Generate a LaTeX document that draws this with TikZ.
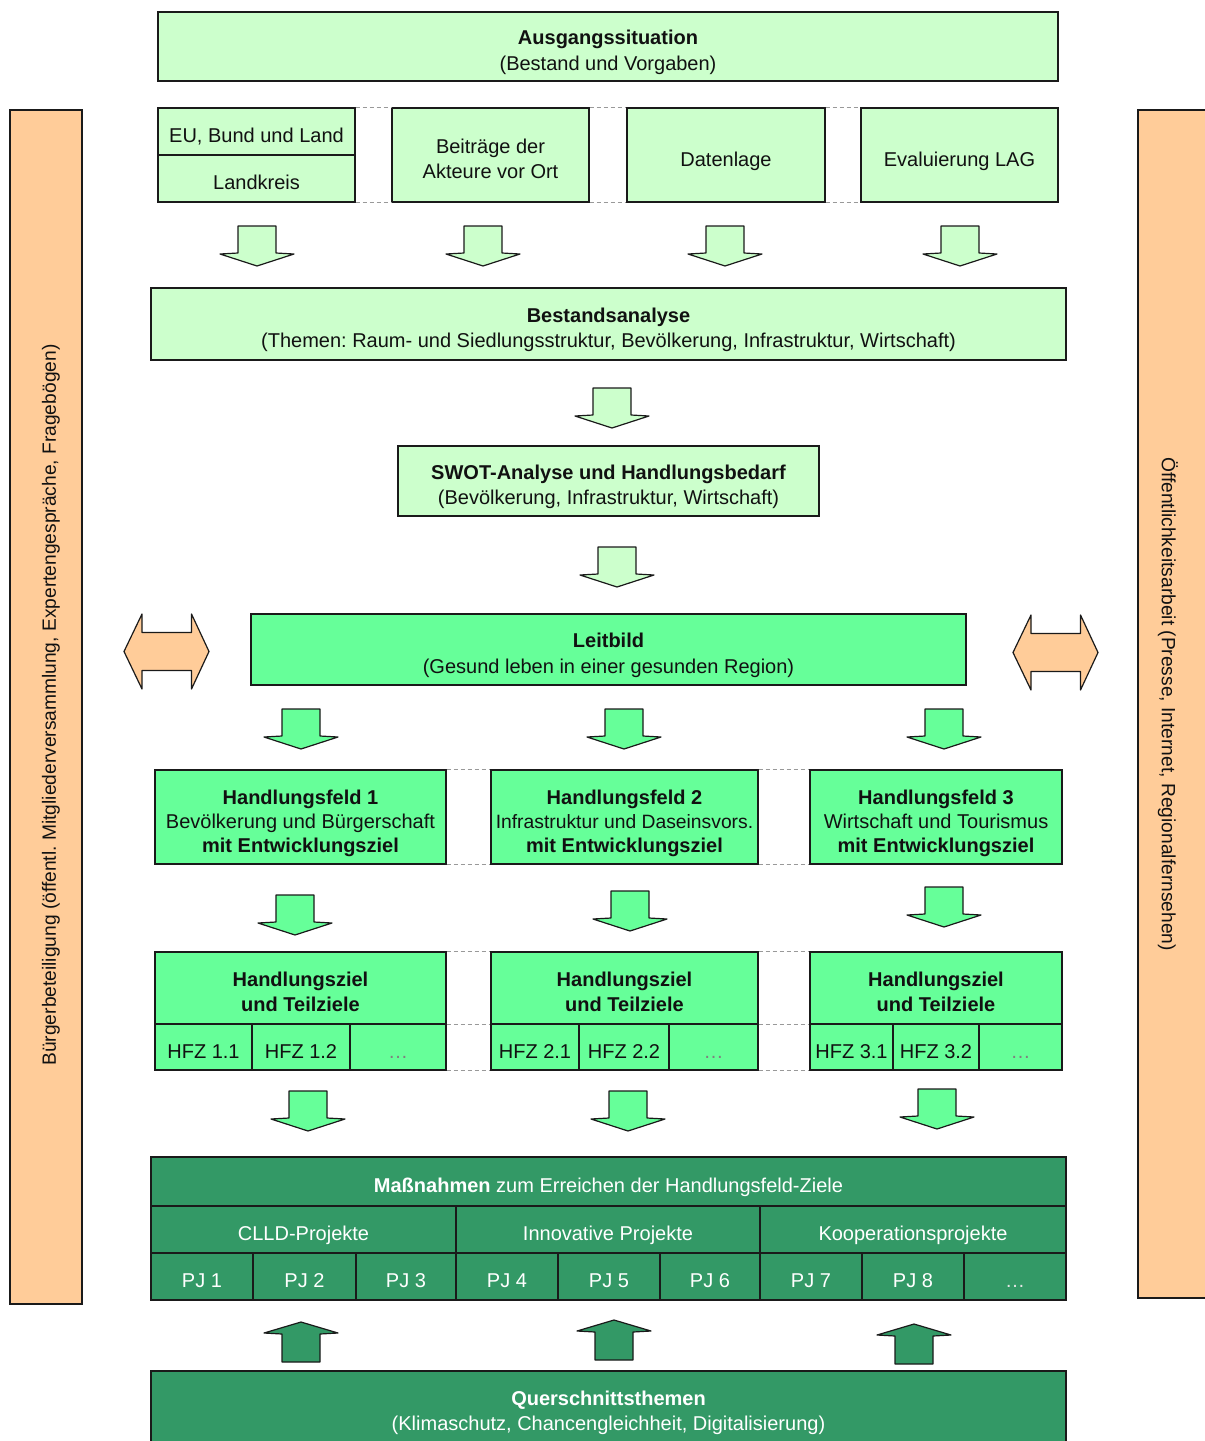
\documentclass[tikz,border=0pt]{standalone}
\usepackage{fontspec}
\setmainfont{Liberation Sans}
\frenchspacing
\definecolor{lightg}{HTML}{CCFFCC}
\definecolor{brightg}{HTML}{66FF99}
\definecolor{darkg}{HTML}{339966}
\definecolor{orangeb}{HTML}{FFCC99}
\definecolor{bordc}{HTML}{1A1A1A}
\definecolor{txtc}{HTML}{111111}
\definecolor{dashc}{HTML}{999999}
\begin{document}
\begin{tikzpicture}[x=1pt,y=-1pt,
  box/.style={draw=bordc, line width=1.3pt, inner sep=0pt, align=center,
    font=\fontsize{20}{25.5}\selectfont, text=txtc,
    execute at begin node={\rule{0pt}{27pt}},
    execute at end node={\rule[-5pt]{0pt}{5pt}}},
  twoline/.style={execute at begin node={\rule{0pt}{52.5pt}}},
  threeline/.style={font=\fontsize{20}{24}\selectfont, execute at begin node={\rule{0pt}{75pt}}},
  lbox/.style={box, fill=lightg},
  gbox/.style={box, fill=brightg},
  dbox/.style={box, fill=darkg, text=white},
  obox/.style={box, fill=orangeb},
  sidetext/.style={inner sep=0pt, font=\fontsize{19.2}{24}\selectfont, text=txtc},
  dline/.style={draw=dashc, line width=1pt, dash pattern=on 4pt off 3pt},
  arrl/.style={fill=lightg, draw=bordc, line width=1.2pt, line join=round},
  arrg/.style={fill=brightg, draw=bordc, line width=1.2pt, line join=round},
  arrd/.style={fill=darkg, draw=bordc, line width=1.2pt, line join=round},
  arro/.style={fill=orangeb, draw=bordc, line width=1.2pt, line join=round},
  darr/.pic={\draw[pic actions] (-19,0) -- (19,0) -- (19,27) -- (37,28) -- (0,40) -- (-37,28) -- (-19,27) -- cycle;},
  uarr/.pic={\draw[pic actions] (0,0) -- (37,11) -- (19,12) -- (19,40) -- (-19,40) -- (-19,12) -- (-37,11) -- cycle;},
  dblarr/.pic={\draw[pic actions] (-42.5,0) -- (-24.5,-37.5) -- (-24.5,-19) -- (25,-19) -- (25,-37.5) -- (42.5,0) -- (25,37.5) -- (25,19) -- (-24.5,19) -- (-24.5,37.5) -- cycle;}
]
\useasboundingbox (0,0) rectangle (1205,1441);

% side bars
\node[obox, minimum width=72, minimum height=1194] (lbar) at (46,707) {};
\node[sidetext, rotate=90] (ltext) at (51,705) {Bürgerbeteiligung (öffentl. Mitgliederversammlung, Expertengespräche, Fragebögen)};
\node[obox, minimum width=74, minimum height=1188] (rbar) at (1175,704) {};
\node[sidetext, rotate=-90] (rtext) at (1168,704) {Öffentlichkeitsarbeit (Presse, Internet, Regionalfernsehen)};

% top
\node[lbox, twoline, minimum width=900, minimum height=69] (aus) at (608,46.5) {\textbf{Ausgangssituation}\\(Bestand und Vorgaben)};

\node[lbox, minimum width=197, minimum height=47] (eu) at (256.5,131.5) {EU, Bund und Land};
\node[lbox, minimum width=197, minimum height=47] (lk) at (256.5,178.5) {Landkreis};
\node[lbox, twoline, minimum width=197, minimum height=94] (bei) at (490.5,155) {Beiträge der\\Akteure vor Ort};
\node[lbox, minimum width=198, minimum height=94] (dat) at (726,155) {Datenlage};
\node[lbox, minimum width=197, minimum height=94] (eva) at (959.5,155) {Evaluierung LAG};
\draw[dline] (eu.north east) -- (bei.north west);
\draw[dline] (lk.south east) -- (bei.south west);
\draw[dline] (bei.north east) -- (dat.north west);
\draw[dline] (bei.south east) -- (dat.south west);
\draw[dline] (dat.north east) -- (eva.north west);
\draw[dline] (dat.south east) -- (eva.south west);

\pic[arrl] at (257,226) {darr};
\pic[arrl] at (483,226) {darr};
\pic[arrl] at (725,226) {darr};
\pic[arrl] at (960,226) {darr};

\node[lbox, twoline, minimum width=915, minimum height=72] (best) at (608.5,324) {\textbf{Bestandsanalyse}\\(Themen: Raum- und Siedlungsstruktur, Bevölkerung, Infrastruktur, Wirtschaft)};

\pic[arrl] at (612,388) {darr};

\node[lbox, twoline, minimum width=421, minimum height=70] (swot) at (608.5,481) {\textbf{SWOT-Analyse und Handlungsbedarf}\\(Bevölkerung, Infrastruktur, Wirtschaft)};

\pic[arrl] at (617,547) {darr};

\node[gbox, twoline, minimum width=715, minimum height=71] (leit) at (608.5,649.5) {\textbf{Leitbild}\\(Gesund leben in einer gesunden Region)};
\pic[arro] at (166.5,651.5) {dblarr};
\pic[arro] at (1055.5,652.5) {dblarr};

\pic[arrg] at (301,709) {darr};
\pic[arrg] at (624,709) {darr};
\pic[arrg] at (944,709) {darr};

% Handlungsfelder
\node[gbox, threeline, minimum width=291, minimum height=94] (hf1) at (300.5,817) {\textbf{Handlungsfeld 1}\\Bevölkerung und Bürgerschaft\\\textbf{mit Entwicklungsziel}};
\node[gbox, threeline, minimum width=267, minimum height=94] (hf2) at (624.5,817) {\textbf{Handlungsfeld 2}\\{\fontsize{19.3}{24}\selectfont Infrastruktur und Daseinsvors.}\\\textbf{mit Entwicklungsziel}};
\node[gbox, threeline, minimum width=252, minimum height=94] (hf3) at (936,817) {\textbf{Handlungsfeld 3}\\Wirtschaft und Tourismus\\\textbf{mit Entwicklungsziel}};
\draw[dline] (hf1.north east) -- (hf2.north west);
\draw[dline] (hf1.south east) -- (hf2.south west);
\draw[dline] (hf2.north east) -- (hf3.north west);
\draw[dline] (hf2.south east) -- (hf3.south west);

\pic[arrg] at (295,895) {darr};
\pic[arrg] at (630,891) {darr};
\pic[arrg] at (944,887) {darr};

% Handlungsziele
\node[gbox, twoline, minimum width=291, minimum height=72] (hz1) at (300.5,988) {\textbf{Handlungsziel}\\\textbf{und Teilziele}};
\node[gbox, minimum width=97, minimum height=46] (hz1a) at (203.5,1047) {HFZ 1.1};
\node[gbox, minimum width=98, minimum height=46] (hz1b) at (301,1047) {HFZ 1.2};
\node[gbox, minimum width=96, minimum height=46, text=gray] (hz1c) at (398,1047) {\ldots};
\node[gbox, twoline, minimum width=267, minimum height=72] (hz2) at (624.5,988) {\textbf{Handlungsziel}\\\textbf{und Teilziele}};
\node[gbox, minimum width=88, minimum height=46] (hz2a) at (535,1047) {HFZ 2.1};
\node[gbox, minimum width=90, minimum height=46] (hz2b) at (624,1047) {HFZ 2.2};
\node[gbox, minimum width=89, minimum height=46, text=gray] (hz2c) at (713.5,1047) {\ldots};
\node[gbox, twoline, minimum width=252, minimum height=72] (hz3) at (936,988) {\textbf{Handlungsziel}\\\textbf{und Teilziele}};
\node[gbox, minimum width=83, minimum height=46] (hz3a) at (851.5,1047) {HFZ 3.1};
\node[gbox, minimum width=86, minimum height=46] (hz3b) at (936,1047) {HFZ 3.2};
\node[gbox, minimum width=83, minimum height=46, text=gray] (hz3c) at (1020.5,1047) {\ldots};
\draw[dline] (hz1.north east) -- (hz2.north west);
\draw[dline] (hz1.south east) -- (hz2.south west);
\draw[dline] (hz1c.south east) -- (hz2a.south west);
\draw[dline] (hz2.north east) -- (hz3.north west);
\draw[dline] (hz2.south east) -- (hz3.south west);
\draw[dline] (hz2c.south east) -- (hz3a.south west);

\pic[arrg] at (308,1091) {darr};
\pic[arrg] at (628,1091) {darr};
\pic[arrg] at (937,1089) {darr};

% Massnahmen
\node[dbox, minimum width=915, minimum height=49] (mass) at (608.5,1181.5) {\textbf{Maßnahmen} zum Erreichen der Handlungsfeld-Ziele};
\node[dbox, minimum width=305, minimum height=47] (clld) at (303.5,1229.5) {CLLD-Projekte};
\node[dbox, minimum width=304, minimum height=47] (inno) at (608,1229.5) {Innovative Projekte};
\node[dbox, minimum width=306, minimum height=47] (koop) at (913,1229.5) {Kooperationsprojekte};
\node[dbox, minimum width=102, minimum height=47] (pj1) at (202,1276.5) {PJ 1};
\node[dbox, minimum width=103, minimum height=47] (pj2) at (304.5,1276.5) {PJ 2};
\node[dbox, minimum width=100, minimum height=47] (pj3) at (406,1276.5) {PJ 3};
\node[dbox, minimum width=102, minimum height=47] (pj4) at (507,1276.5) {PJ 4};
\node[dbox, minimum width=102, minimum height=47] (pj5) at (609,1276.5) {PJ 5};
\node[dbox, minimum width=100, minimum height=47] (pj6) at (710,1276.5) {PJ 6};
\node[dbox, minimum width=102, minimum height=47] (pj7) at (811,1276.5) {PJ 7};
\node[dbox, minimum width=102, minimum height=47] (pj8) at (913,1276.5) {PJ 8};
\node[dbox, minimum width=102, minimum height=47, text=white!80!gray] (pj9) at (1015,1276.5) {\ldots};

\pic[arrd] at (301,1322) {uarr};
\pic[arrd] at (614,1320) {uarr};
\pic[arrd] at (914,1324) {uarr};

\node[dbox, twoline, minimum width=915, minimum height=72] (quer) at (608.5,1407) {\textbf{Querschnittsthemen}\\(Klimaschutz, Chancengleichheit, Digitalisierung)};
\end{tikzpicture}
\end{document}
